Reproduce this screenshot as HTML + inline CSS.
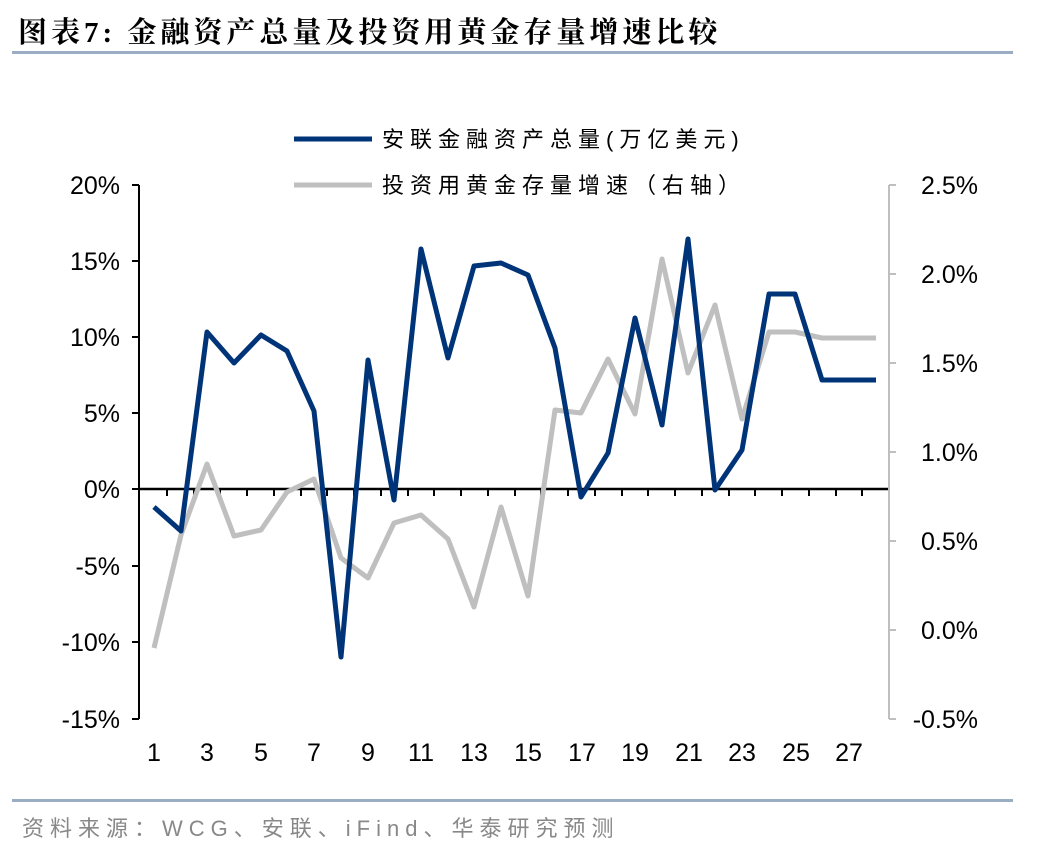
<!DOCTYPE html><html><head><meta charset="utf-8"><style>body{margin:0;background:#fff;width:1048px;height:852px;overflow:hidden}</style></head><body>
<svg width="1048" height="852" xmlns="http://www.w3.org/2000/svg" font-family="Liberation Sans, Noto Sans CJK SC, sans-serif">
<text x="18" y="42" font-size="29" font-weight="bold" letter-spacing="4" font-family="Liberation Serif, Noto Serif CJK SC, serif">图表7:  金融资产总量及投资用黄金存量增速比较</text>
<rect x="12" y="51" width="1001" height="3" fill="#9badc5"/>
<rect x="12" y="799" width="1001" height="3" fill="#9badc5"/>
<text x="22" y="836" font-size="22" letter-spacing="6" fill="#888">资料来源：WCG、安联、iFind、华泰研究预测</text>
<line x1="294" y1="139" x2="372" y2="139" stroke="#003478" stroke-width="5"/>
<text x="382" y="147" font-size="22" letter-spacing="6">安联金融资产总量(万亿美元)</text>
<line x1="294" y1="185" x2="372" y2="185" stroke="#bfbfbf" stroke-width="5"/>
<text x="382" y="193" font-size="22" letter-spacing="6">投资用黄金存量增速（右轴）</text>
<g stroke="#000" stroke-width="2">
<line x1="139" y1="185" x2="139" y2="719"/>
<line x1="132" y1="185" x2="139" y2="185"/><line x1="132" y1="261" x2="139" y2="261"/><line x1="132" y1="337" x2="139" y2="337"/><line x1="132" y1="413" x2="139" y2="413"/><line x1="132" y1="489" x2="139" y2="489"/><line x1="132" y1="566" x2="139" y2="566"/><line x1="132" y1="642" x2="139" y2="642"/><line x1="132" y1="719" x2="139" y2="719"/>
<line x1="139" y1="489" x2="889" y2="489" stroke-width="2.5"/>
</g>
<g stroke="#bfbfbf" stroke-width="2">
<line x1="889" y1="185" x2="889" y2="719"/>
<line x1="889" y1="185" x2="896" y2="185"/><line x1="889" y1="274" x2="896" y2="274"/><line x1="889" y1="363" x2="896" y2="363"/><line x1="889" y1="452" x2="896" y2="452"/><line x1="889" y1="541" x2="896" y2="541"/><line x1="889" y1="630" x2="896" y2="630"/><line x1="889" y1="719" x2="896" y2="719"/>
</g>
<g stroke="#000" stroke-width="2">
<path d="M167 489v7M194 489v7M220 489v7M247 489v7M274 489v7M301 489v7M327 489v7M354 489v7M381 489v7M408 489v7M434 489v7M461 489v7M488 489v7M515 489v7M541 489v7M568 489v7M595 489v7M622 489v7M648 489v7M675 489v7M702 489v7M729 489v7M755 489v7M782 489v7M809 489v7M836 489v7M862 489v7"/>
</g>
<g font-size="25" text-anchor="end">
<text x="120" y="194">20%</text><text x="120" y="270">15%</text><text x="120" y="346">10%</text><text x="120" y="422">5%</text><text x="120" y="498">0%</text><text x="120" y="575">-5%</text><text x="120" y="651">-10%</text><text x="120" y="728">-15%</text>
</g>
<g font-size="25" text-anchor="end">
<text x="978" y="194">2.5%</text><text x="978" y="283">2.0%</text><text x="978" y="372">1.5%</text><text x="978" y="461">1.0%</text><text x="978" y="550">0.5%</text><text x="978" y="639">0.0%</text><text x="978" y="728">-0.5%</text>
</g>
<g font-size="25" text-anchor="middle">
<text x="154" y="761">1</text><text x="207" y="761">3</text><text x="261" y="761">5</text><text x="314" y="761">7</text><text x="368" y="761">9</text><text x="421" y="761">11</text><text x="474" y="761">13</text><text x="528" y="761">15</text><text x="582" y="761">17</text><text x="635" y="761">19</text><text x="689" y="761">21</text><text x="742" y="761">23</text><text x="796" y="761">25</text><text x="849" y="761">27</text>
</g>
<polyline fill="none" stroke="#bfbfbf" stroke-width="5" stroke-linejoin="round" points="154,648 181,535 207,464 234,536 261,530 287,492 314,479 341,558 368,578 394,523 421,515 448,539 474,607 501,507 528,596 555,410 581,413 608,359 635,414 662,259 688,373 715,305 742,419 769,332 795,332 822,338 849,338 876,338"/>
<polyline fill="none" stroke="#003478" stroke-width="5" stroke-linejoin="round" points="154,507 181,531 207,332 234,363 261,335 287,351 314,411 341,657 368,360 394,500 421,249 448,358 474,266 501,263 528,275 555,348 581,497 608,453 635,318 662,425 688,239 715,490 742,450 769,294 795,294 822,380 849,380 876,380"/>
</svg>
</body></html>
